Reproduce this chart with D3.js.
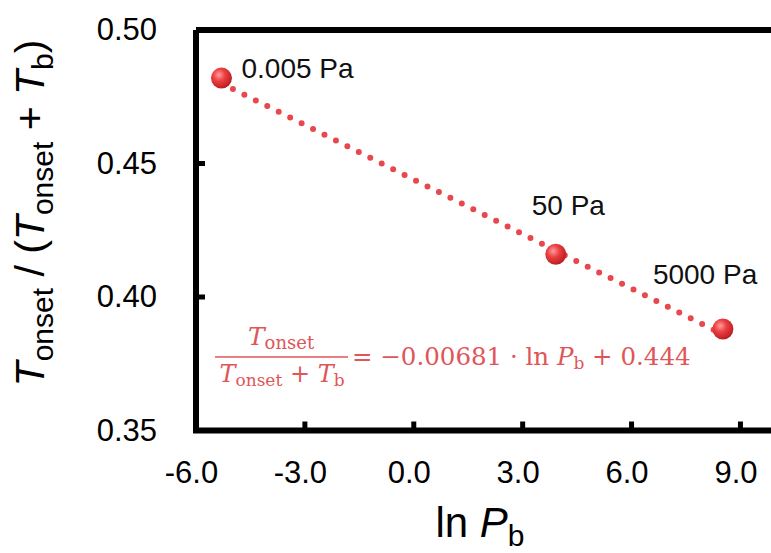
<!DOCTYPE html>
<html><head><meta charset="utf-8">
<script src="https://cdn.jsdelivr.net/npm/d3@7"></script>
<style>body{margin:0;background:#fff}svg{display:block}</style>
</head><body>
<script>
const lnP = [-5.298, 3.912, 8.517];
const ratio = [0.482, 0.416, 0.388];
const pLabels = ["0.005 Pa", "50 Pa", "5000 Pa"];
const xTicks = [-6, -3, 0, 3, 6, 9];
const yTicks = [0.35, 0.40, 0.45, 0.50];
const slope = -0.00681, intercept = 0.444;

const W = 771, H = 553;
const svg = d3.select("body").append("svg").attr("width", W).attr("height", H);
const x = d3.scaleLinear().domain([-6, 10.2]).range([196, 784]);
const y = d3.scaleLinear().domain([0.35, 0.50]).range([430.5, 30]);
const sans = "Liberation Sans, Arial, sans-serif";

const defs = svg.append("defs");
const g = defs.append("radialGradient").attr("id","ball").attr("cx","38%").attr("cy","35%").attr("r","65%");
g.append("stop").attr("offset","0%").attr("stop-color","#ff9c9c");
g.append("stop").attr("offset","45%").attr("stop-color","#ec3f42");
g.append("stop").attr("offset","100%").attr("stop-color","#bb1f22");

// fit line (dotted)
const fit = v => slope * v + intercept;
svg.append("line")
  .attr("x1", x(lnP[0])).attr("y1", y(fit(lnP[0])))
  .attr("x2", x(lnP[2])).attr("y2", y(fit(lnP[2])))
  .attr("stroke","#e8474c").attr("stroke-width",6)
  .attr("stroke-linecap","round").attr("stroke-dasharray","0 12.8");

// frame
svg.append("path")
  .attr("d", `M${x(-6)},${y(0.5)}H${W+10}M${x(-6)},${y(0.5)}V${y(0.35)}H${W+10}`)
  .attr("fill","none").attr("stroke","#000").attr("stroke-width",6);

// axes
const xAxis = d3.axisBottom(x).tickValues(xTicks).tickFormat(d3.format(".1f")).tickSize(0).tickPadding(30);
const gx = svg.append("g").attr("transform",`translate(0,${y(0.35)})`).call(xAxis);
gx.select(".domain").remove();
gx.selectAll("text").attr("font-family",sans).attr("font-size",31).attr("fill","#000").attr("dx",-5)
  .text(d => d3.format(".1f")(d).replace("−","-"));
svg.selectAll(".xt").data(xTicks.filter(d=>d>-6)).join("line").attr("class","xt")
  .attr("x1",d=>x(d)).attr("x2",d=>x(d)).attr("y1",y(0.35)).attr("y2",y(0.35)-9)
  .attr("stroke","#000").attr("stroke-width",5);

const yAxis = d3.axisLeft(y).tickValues(yTicks).tickFormat(d3.format(".2f")).tickSize(0).tickPadding(39);
const gy = svg.append("g").attr("transform",`translate(${x(-6)},0)`).call(yAxis);
gy.select(".domain").remove();
gy.selectAll("text").attr("font-family",sans).attr("font-size",31).attr("fill","#000");
svg.selectAll(".yt").data([0.40,0.45]).join("line").attr("class","yt")
  .attr("x1",x(-6)).attr("x2",x(-6)+9).attr("y1",d=>y(d)).attr("y2",d=>y(d))
  .attr("stroke","#000").attr("stroke-width",5);

// points
svg.selectAll(".pt").data(lnP).join("circle").attr("class","pt")
  .attr("cx",d=>x(d)).attr("cy",(d,i)=>y(ratio[i])).attr("r",10.5)
  .attr("fill","url(#ball)");

// point labels
const lblOff = [[20,0],[-24,-39],[-70,-45]];
svg.selectAll(".pl").data(pLabels).join("text").attr("class","pl")
  .attr("x",(d,i)=>x(lnP[i])+lblOff[i][0]).attr("y",(d,i)=>y(ratio[i])+lblOff[i][1])
  .attr("font-family",sans).attr("font-size",28).attr("fill","#111").text(d=>d);

// axis titles
const xt = svg.append("text").attr("x",480).attr("y",537).attr("text-anchor","middle")
  .attr("font-family",sans).attr("font-size",42).attr("fill","#000");
xt.append("tspan").text("ln ");
xt.append("tspan").attr("font-style","italic").text("P");
xt.append("tspan").attr("font-size",30).attr("dy",9).text("b");

const yt = svg.append("text").attr("transform","translate(44,213) rotate(-90)").attr("text-anchor","middle")
  .attr("font-family",sans).attr("font-size",41).attr("fill","#000");
const sub = (t, s) => { yt.append("tspan").attr("font-size",30).attr("dy",9).text(s); yt.append("tspan").attr("dy",-9).text(t); };
yt.append("tspan").attr("font-style","italic").text("T");
sub(" / (", "onset");
yt.append("tspan").attr("font-style","italic").text("T");
sub(" + ", "onset");
yt.append("tspan").attr("font-style","italic").text("T");
sub(")", "b");

// equation
const eqC = "#e05558";
const eq = svg.append("g").attr("fill",eqC).attr("font-family","DejaVu Serif, serif");
const num = eq.append("text").attr("x",281).attr("y",345).attr("text-anchor","middle").attr("font-size",25);
num.append("tspan").attr("font-style","italic").text("T");
num.append("tspan").attr("font-size",18).attr("dy",4).text("onset");
eq.append("line").attr("x1",215).attr("x2",348).attr("y1",357).attr("y2",357).attr("stroke",eqC).attr("stroke-width",1.6);
const den = eq.append("text").attr("x",282).attr("y",382).attr("text-anchor","middle").attr("font-size",24);
den.append("tspan").attr("font-style","italic").text("T");
den.append("tspan").attr("font-size",17).attr("dy",4).text("onset");
den.append("tspan").attr("dy",-4).text(" + ");
den.append("tspan").attr("font-style","italic").text("T");
den.append("tspan").attr("font-size",17).attr("dy",4).text("b");
const rhs = eq.append("text").attr("x",352).attr("y",365).attr("font-size",24.5);
rhs.append("tspan").text(`= −${Math.abs(slope)} · ln `);
rhs.append("tspan").attr("font-style","italic").text("P");
rhs.append("tspan").attr("font-size",17).attr("dy",4).text("b");
rhs.append("tspan").attr("dy",-4).text(` + ${intercept}`);
</script>
</body></html>
